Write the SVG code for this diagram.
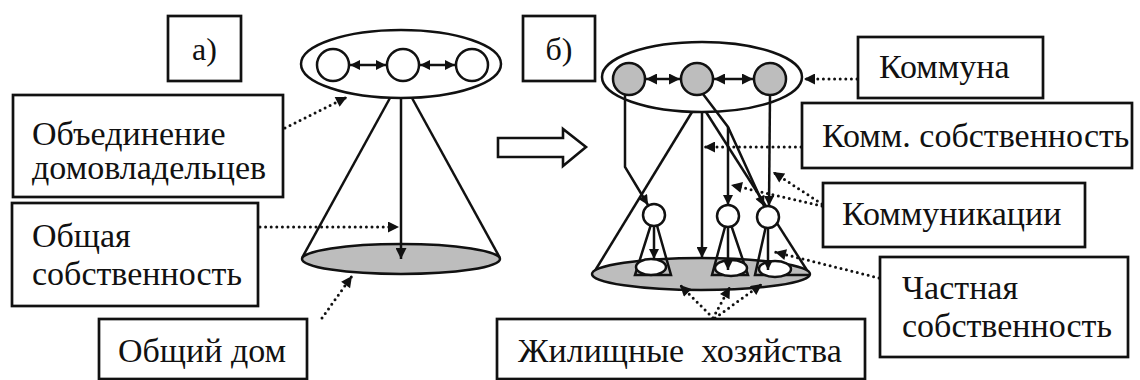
<svg xmlns="http://www.w3.org/2000/svg" width="1140" height="380" viewBox="0 0 1140 380" font-family="Liberation Serif, Tinos, Times New Roman, serif">
  <defs>
    <marker id="ah" viewBox="0 0 10 10" refX="10" refY="5" markerWidth="13" markerHeight="11" markerUnits="userSpaceOnUse" orient="auto-start-reverse">
      <path d="M0,0 L10,5 L0,10 z" fill="#111"/>
    </marker>
    <marker id="ahs" viewBox="0 0 10 10" refX="10" refY="5" markerWidth="11" markerHeight="10" markerUnits="userSpaceOnUse" orient="auto-start-reverse">
      <path d="M0,0 L10,5 L0,10 z" fill="#111"/>
    </marker>
  </defs>

  <!-- panel а): single shared house -->
  <g id="tag-a">
    <rect x="168" y="16" width="73" height="65" fill="#fff" stroke="#111" stroke-width="2.7"/>
    <text x="204.5" y="60" font-family="Liberation Serif, serif" font-size="32" fill="#111" text-anchor="middle">а)</text>
  </g>
  <g id="owners-union" fill="#fff" stroke="#111" stroke-width="2.5">
    <ellipse cx="401" cy="64" rx="100" ry="34"/>
    <circle cx="333" cy="65" r="16"/>
    <circle cx="403" cy="65" r="16"/>
    <circle cx="472" cy="65" r="16"/>
    <line x1="350" y1="65" x2="386" y2="65" marker-start="url(#ahs)" marker-end="url(#ahs)"/>
    <line x1="420" y1="65" x2="455" y2="65" marker-start="url(#ahs)" marker-end="url(#ahs)"/>
  </g>
  <g id="common-house" fill="none" stroke="#111" stroke-width="2.5">
    <line x1="390" y1="98" x2="302" y2="258"/>
    <line x1="412" y1="98" x2="500" y2="258"/>
    <ellipse cx="401" cy="259" rx="99" ry="15" fill="#bdbdbd"/>
    <line x1="401" y1="98" x2="401" y2="259" marker-end="url(#ah)"/>
  </g>

  <!-- transition arrow -->
  <g id="transition">
    <polygon points="498,138 563,138 563,129 586,147 563,166 563,157 498,157" fill="#fff" stroke="#111" stroke-width="2.6"/>
  </g>

  <!-- panel б): commune -->
  <g id="tag-b">
    <rect x="523" y="16" width="72" height="65" fill="#fff" stroke="#111" stroke-width="2.7"/>
    <text x="559" y="60" font-family="Liberation Serif, serif" font-size="32" fill="#111" text-anchor="middle">б)</text>
  </g>
  <g id="commune" fill="#bdbdbd" stroke="#111" stroke-width="2.5">
    <ellipse cx="702" cy="77" rx="100" ry="35" fill="#fff"/>
    <circle cx="629" cy="79" r="16"/>
    <circle cx="697" cy="79" r="16"/>
    <circle cx="770" cy="79" r="16"/>
    <line x1="646" y1="79" x2="680" y2="79" marker-start="url(#ah)" marker-end="url(#ah)"/>
    <line x1="714" y1="79" x2="753" y2="79" marker-start="url(#ah)" marker-end="url(#ah)"/>
  </g>
  <g id="commune-ground" fill="none" stroke="#111" stroke-width="2.5">
    <line x1="692" y1="112" x2="593" y2="274"/>
    <line x1="706" y1="112" x2="810" y2="275"/>
    <ellipse cx="701" cy="274" rx="109" ry="16" fill="#bdbdbd"/>
    <line x1="702" y1="112" x2="702" y2="258" marker-end="url(#ah)"/>
  </g>
  <g id="links" fill="none" stroke="#111" stroke-width="2.5">
    <polyline points="625,95 625,167 648,205" marker-end="url(#ahs)"/>
    <polyline points="703,94 728,127 764,206" marker-end="url(#ahs)"/>
    <line x1="728" y1="127" x2="728" y2="205" marker-end="url(#ahs)"/>
    <line x1="770" y1="95" x2="769" y2="206" marker-end="url(#ahs)"/>
  </g>
  <g id="household-1" fill="#fff" stroke="#111" stroke-width="2.5">
    <polyline points="654,215 635,275 671,275 654,215" fill="none"/>
    <ellipse cx="651" cy="267" rx="15" ry="8"/>
    <circle cx="654" cy="215" r="11"/>
    <line x1="654" y1="226" x2="654" y2="259" marker-end="url(#ahs)"/>
  </g>
  <g id="household-2" fill="#fff" stroke="#111" stroke-width="2.5">
    <polyline points="728,216 712,275 748,275 728,216" fill="none"/>
    <ellipse cx="731" cy="268" rx="16" ry="8"/>
    <circle cx="728" cy="216" r="11"/>
    <line x1="728" y1="227" x2="728" y2="270" marker-end="url(#ahs)"/>
  </g>
  <g id="household-3" fill="#fff" stroke="#111" stroke-width="2.5">
    <polyline points="768,217 755,275 810,275" fill="none"/>
    <ellipse cx="775" cy="269" rx="16" ry="8"/>
    <circle cx="768" cy="217" r="11"/>
    <line x1="768" y1="228" x2="768" y2="270" marker-end="url(#ahs)"/>
  </g>

  <!-- label boxes -->
  <g id="label-owners">
    <rect x="13" y="95" width="270" height="102" fill="#fff" stroke="#111" stroke-width="2.7"/>
    <text x="32" y="145" font-family="Liberation Serif, serif" font-size="34" fill="#111">Объединение</text>
    <text x="32" y="179" font-family="Liberation Serif, serif" font-size="34" fill="#111">домовладельцев</text>
  </g>
  <g id="label-common-property">
    <rect x="12" y="203" width="246" height="103" fill="#fff" stroke="#111" stroke-width="2.7"/>
    <text x="32" y="247" font-family="Liberation Serif, serif" font-size="34" fill="#111">Общая</text>
    <text x="32" y="285" font-family="Liberation Serif, serif" font-size="34" fill="#111">собственность</text>
  </g>
  <g id="label-common-house">
    <rect x="99" y="319" width="208" height="60" fill="#fff" stroke="#111" stroke-width="2.7"/>
    <text x="118" y="362" font-family="Liberation Serif, serif" font-size="34" fill="#111">Общий дом</text>
  </g>
  <g id="label-commune">
    <rect x="858" y="37" width="185" height="61" fill="#fff" stroke="#111" stroke-width="2.7"/>
    <text x="879" y="78" font-family="Liberation Serif, serif" font-size="34" fill="#111">Коммуна</text>
  </g>
  <g id="label-commune-property">
    <rect x="802" y="103" width="330" height="65" fill="#fff" stroke="#111" stroke-width="2.7"/>
    <text x="822" y="147" font-family="Liberation Serif, serif" font-size="34" fill="#111">Комм. собственность</text>
  </g>
  <g id="label-utilities">
    <rect x="823" y="183" width="262" height="64" fill="#fff" stroke="#111" stroke-width="2.7"/>
    <text x="842" y="225" font-family="Liberation Serif, serif" font-size="34" fill="#111">Коммуникации</text>
  </g>
  <g id="label-private-property">
    <rect x="880" y="257" width="248" height="100" fill="#fff" stroke="#111" stroke-width="2.7"/>
    <text x="902" y="299" font-family="Liberation Serif, serif" font-size="34" fill="#111">Частная</text>
    <text x="902" y="337" font-family="Liberation Serif, serif" font-size="34" fill="#111">собственность</text>
  </g>
  <g id="label-households">
    <rect x="497" y="319" width="368" height="60" fill="#fff" stroke="#111" stroke-width="2.7"/>
    <text x="518" y="362" font-family="Liberation Serif, serif" font-size="34" fill="#111" xml:space="preserve">Жилищные  хозяйства</text>
  </g>

  <!-- dotted pointers from labels -->
  <g id="connectors" fill="none" stroke="#111" stroke-width="3" stroke-linecap="round" stroke-dasharray="0 5.6">
    <line x1="285" y1="128" x2="347" y2="97" marker-end="url(#ah)"/>
    <line x1="260" y1="227" x2="399" y2="227" marker-end="url(#ah)"/>
    <line x1="322" y1="318" x2="352" y2="276" marker-end="url(#ah)"/>
    <line x1="857" y1="79" x2="804" y2="79" marker-end="url(#ah)"/>
    <line x1="801" y1="147" x2="704" y2="147" marker-end="url(#ah)"/>
    <line x1="822" y1="204" x2="773" y2="172" marker-end="url(#ah)"/>
    <line x1="822" y1="206" x2="731" y2="185" marker-end="url(#ah)"/>
    <line x1="879" y1="278" x2="775" y2="252" marker-end="url(#ah)"/>
    <line x1="713" y1="318" x2="680" y2="285" marker-end="url(#ah)"/>
    <line x1="713" y1="318" x2="730" y2="287" marker-end="url(#ah)"/>
    <line x1="715" y1="318" x2="762" y2="284" marker-end="url(#ah)"/>
  </g>
</svg>
